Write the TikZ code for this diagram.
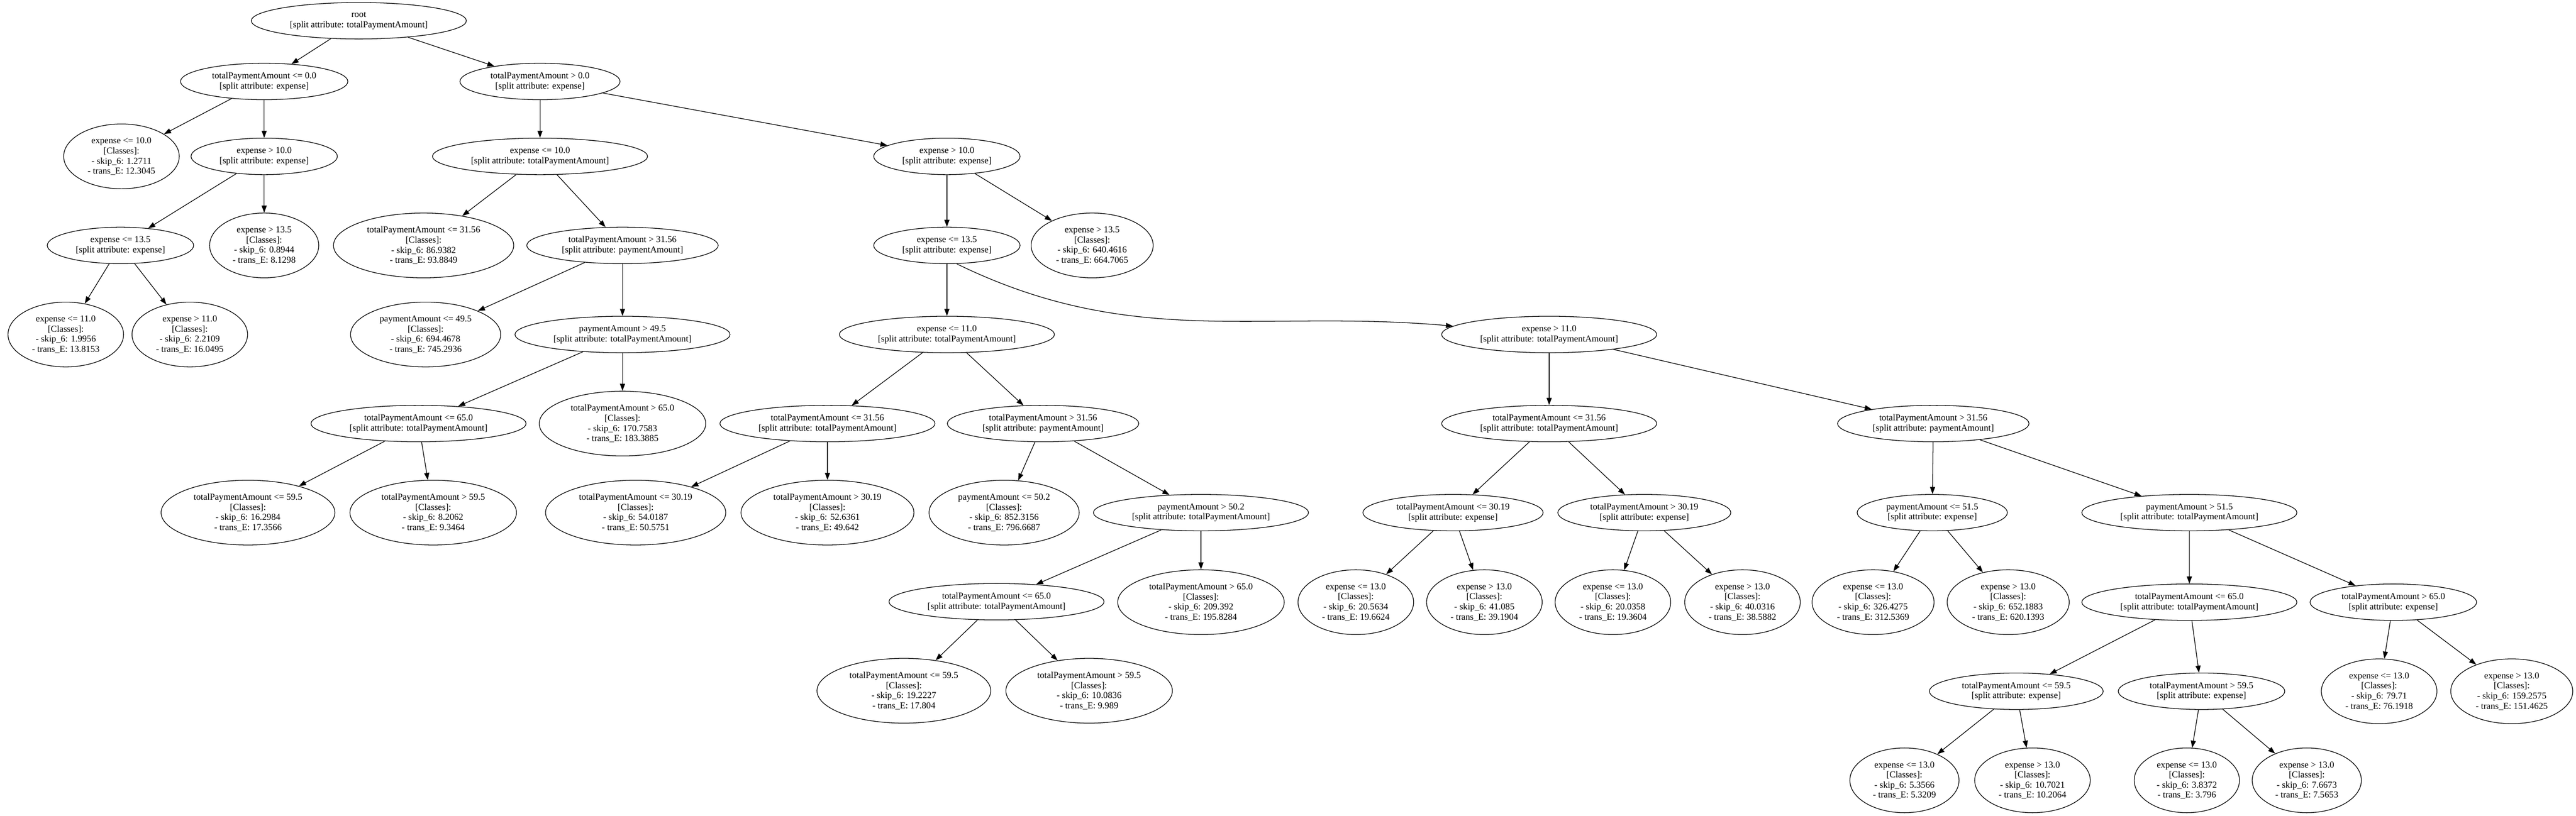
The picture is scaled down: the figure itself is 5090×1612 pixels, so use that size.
\documentclass[tikz,border=0pt]{standalone}
\usepackage{fontspec}
\setmainfont{Liberation Serif}
\usepackage{tikz}
\usetikzlibrary{shapes, arrows.meta}

\newcommand{\splitlbl}[2]{#1\\{}[split attribute: #2]}
\newcommand{\leaflbl}[3]{#1\\{}[Classes]:\\- skip\_6: #2\\- trans\_E: #3}

\begin{document}
\begin{tikzpicture}[x=1pt, y=-1pt]
                % Styles for split nodes, leaves and branches
                \tikzset{
                    splitnode/.style={ellipse, draw, line width=1.3pt, align=center, inner xsep=14pt, inner ysep=2pt, minimum height=72pt, font=\fontsize{18}{20}\selectfont},
                    leafnode/.style={splitnode, minimum height=128pt},
                    branch/.style={-{Triangle[length=14pt, width=10pt]}, line width=1.3pt}
                }
                \useasboundingbox (0,0) rectangle (5090,1612);

                % Root and the left part
                \node[splitnode] (root) at (709,41) {\splitlbl{root}{totalPaymentAmount}};
                \node[splitnode] (L) at (522,161) {\splitlbl{totalPaymentAmount <= 0.0}{expense}};
                \node[leafnode] (LL) at (240,309) {\leaflbl{expense <= 10.0}{1.2711}{12.3045}};
                \node[splitnode] (LR) at (522,309) {\splitlbl{expense > 10.0}{expense}};
                \node[splitnode] (LRL) at (238,485) {\splitlbl{expense <= 13.5}{expense}};
                \node[leafnode] (LRR) at (522,485) {\leaflbl{expense > 13.5}{0.8944}{8.1298}};
                \node[leafnode] (LRLL) at (130,661) {\leaflbl{expense <= 11.0}{1.9956}{13.8153}};
                \node[leafnode] (LRLR) at (375,661) {\leaflbl{expense > 11.0}{2.2109}{16.0495}};

                % totalPaymentAmount > 0.0
                \node[splitnode] (R) at (1067,161) {\splitlbl{totalPaymentAmount > 0.0}{expense}};
                \node[splitnode] (RL) at (1067,309) {\splitlbl{expense <= 10.0}{totalPaymentAmount}};
                \node[leafnode] (RLL) at (837,485) {\leaflbl{totalPaymentAmount <= 31.56}{86.9382}{93.8849}};
                \node[splitnode] (RLR) at (1230,485) {\splitlbl{totalPaymentAmount > 31.56}{paymentAmount}};
                \node[leafnode] (RLRL) at (841,661) {\leaflbl{paymentAmount <= 49.5}{694.4678}{745.2936}};
                \node[splitnode] (RLRR) at (1230,661) {\splitlbl{paymentAmount > 49.5}{totalPaymentAmount}};
                \node[splitnode] (RLRRL) at (827,837) {\splitlbl{totalPaymentAmount <= 65.0}{totalPaymentAmount}};
                \node[leafnode] (RLRRR) at (1230,837) {\leaflbl{totalPaymentAmount > 65.0}{170.7583}{183.3885}};
                \node[leafnode] (RLRRLL) at (490,1013) {\leaflbl{totalPaymentAmount <= 59.5}{16.2984}{17.3566}};
                \node[leafnode] (RLRRLR) at (856,1013) {\leaflbl{totalPaymentAmount > 59.5}{8.2062}{9.3464}};

                % expense > 10.0
                \node[splitnode] (RR) at (1871,309) {\splitlbl{expense > 10.0}{expense}};
                \node[splitnode] (RRL) at (1871,485) {\splitlbl{expense <= 13.5}{expense}};
                \node[leafnode] (RRR) at (2158,485) {\leaflbl{expense > 13.5}{640.4616}{664.7065}};
                \node[splitnode] (RRLL) at (1871,661) {\splitlbl{expense <= 11.0}{totalPaymentAmount}};
                \node[splitnode] (RRLLL) at (1635,837) {\splitlbl{totalPaymentAmount <= 31.56}{totalPaymentAmount}};
                \node[leafnode] (RRLLLL) at (1256,1013) {\leaflbl{totalPaymentAmount <= 30.19}{54.0187}{50.5751}};
                \node[leafnode] (RRLLLR) at (1635,1013) {\leaflbl{totalPaymentAmount > 30.19}{52.6361}{49.642}};
                \node[splitnode] (RRLLR) at (2061,837) {\splitlbl{totalPaymentAmount > 31.56}{paymentAmount}};
                \node[leafnode] (RRLLRL) at (1984,1013) {\leaflbl{paymentAmount <= 50.2}{852.3156}{796.6687}};
                \node[splitnode] (RRLLRR) at (2373,1013) {\splitlbl{paymentAmount > 50.2}{totalPaymentAmount}};
                \node[splitnode] (RRLLRRL) at (1969,1189) {\splitlbl{totalPaymentAmount <= 65.0}{totalPaymentAmount}};
                \node[leafnode] (RRLLRRR) at (2373,1190) {\leaflbl{totalPaymentAmount > 65.0}{209.392}{195.8284}};
                \node[leafnode] (RRLLRRLL) at (1786,1365) {\leaflbl{totalPaymentAmount <= 59.5}{19.2227}{17.804}};
                \node[leafnode] (RRLLRRLR) at (2152,1365) {\leaflbl{totalPaymentAmount > 59.5}{10.0836}{9.989}};

                % expense > 11.0
                \node[splitnode] (RRLR) at (3061,661) {\splitlbl{expense > 11.0}{totalPaymentAmount}};
                \node[splitnode] (RRLRL) at (3061,837) {\splitlbl{totalPaymentAmount <= 31.56}{totalPaymentAmount}};
                \node[splitnode] (RRLRLL) at (2871,1013) {\splitlbl{totalPaymentAmount <= 30.19}{expense}};
                \node[leafnode] (RRLRLLL) at (2679,1190) {\leaflbl{expense <= 13.0}{20.5634}{19.6624}};
                \node[leafnode] (RRLRLLR) at (2933,1190) {\leaflbl{expense > 13.0}{41.085}{39.1904}};
                \node[splitnode] (RRLRLR) at (3249,1013) {\splitlbl{totalPaymentAmount > 30.19}{expense}};
                \node[leafnode] (RRLRLRL) at (3187,1190) {\leaflbl{expense <= 13.0}{20.0358}{19.3604}};
                \node[leafnode] (RRLRLRR) at (3443,1190) {\leaflbl{expense > 13.0}{40.0316}{38.5882}};
                \node[splitnode] (RRLRR) at (3820,837) {\splitlbl{totalPaymentAmount > 31.56}{paymentAmount}};
                \node[splitnode] (RRLRRL) at (3818,1013) {\splitlbl{paymentAmount <= 51.5}{expense}};
                \node[leafnode] (RRLRRLL) at (3701,1190) {\leaflbl{expense <= 13.0}{326.4275}{312.5369}};
                \node[leafnode] (RRLRRLR) at (3968,1190) {\leaflbl{expense > 13.0}{652.1883}{620.1393}};
                \node[splitnode] (RRLRRR) at (4326,1013) {\splitlbl{paymentAmount > 51.5}{totalPaymentAmount}};
                \node[splitnode] (RRLRRRL) at (4326,1190) {\splitlbl{totalPaymentAmount <= 65.0}{totalPaymentAmount}};
                \node[splitnode] (RRLRRRR) at (4729,1190) {\splitlbl{totalPaymentAmount > 65.0}{expense}};
                \node[leafnode] (RRLRRRRL) at (4701,1366) {\leaflbl{expense <= 13.0}{79.71}{76.1918}};
                \node[leafnode] (RRLRRRRR) at (4963,1366) {\leaflbl{expense > 13.0}{159.2575}{151.4625}};
                \node[splitnode] (RRLRRRLL) at (3984,1366) {\splitlbl{totalPaymentAmount <= 59.5}{expense}};
                \node[splitnode] (RRLRRRLR) at (4350,1366) {\splitlbl{totalPaymentAmount > 59.5}{expense}};
                \node[leafnode] (RRLRRRLLL) at (3763,1542) {\leaflbl{expense <= 13.0}{5.3566}{5.3209}};
                \node[leafnode] (RRLRRRLLR) at (4016,1542) {\leaflbl{expense > 13.0}{10.7021}{10.2064}};
                \node[leafnode] (RRLRRRLRL) at (4321,1542) {\leaflbl{expense <= 13.0}{3.8372}{3.796}};
                \node[leafnode] (RRLRRRLRR) at (4558,1542) {\leaflbl{expense > 13.0}{7.6673}{7.5653}};

                % Branches from each split to its children
                \foreach \a/\b in {root/L, root/R, L/LL, L/LR, LR/LRL, LR/LRR, LRL/LRLL, LRL/LRLR,
                    R/RL, R/RR, RL/RLL, RL/RLR, RLR/RLRL, RLR/RLRR, RLRR/RLRRL, RLRR/RLRRR, RLRRL/RLRRLL, RLRRL/RLRRLR,
                    RR/RRL, RR/RRR, RRL/RRLL, RRLL/RRLLL, RRLL/RRLLR, RRLLL/RRLLLL, RRLLL/RRLLLR,
                    RRLLR/RRLLRL, RRLLR/RRLLRR, RRLLRR/RRLLRRL, RRLLRR/RRLLRRR, RRLLRRL/RRLLRRLL, RRLLRRL/RRLLRRLR,
                    RRLR/RRLRL, RRLR/RRLRR, RRLRL/RRLRLL, RRLRL/RRLRLR, RRLRLL/RRLRLLL, RRLRLL/RRLRLLR,
                    RRLRLR/RRLRLRL, RRLRLR/RRLRLRR, RRLRR/RRLRRL, RRLRR/RRLRRR, RRLRRL/RRLRRLL, RRLRRL/RRLRRLR,
                    RRLRRR/RRLRRRL, RRLRRR/RRLRRRR, RRLRRRR/RRLRRRRL, RRLRRRR/RRLRRRRR,
                    RRLRRRL/RRLRRRLL, RRLRRRL/RRLRRRLR, RRLRRRLL/RRLRRRLLL, RRLRRRLL/RRLRRRLLR,
                    RRLRRRLR/RRLRRRLRL, RRLRRRLR/RRLRRRLRR}
                    \draw[branch] (\a) -- (\b);

                % The long bent branch
                \draw[branch] (RRL.-62) to[out=-26, in=175] (RRLR);
\end{tikzpicture}
\end{document}
